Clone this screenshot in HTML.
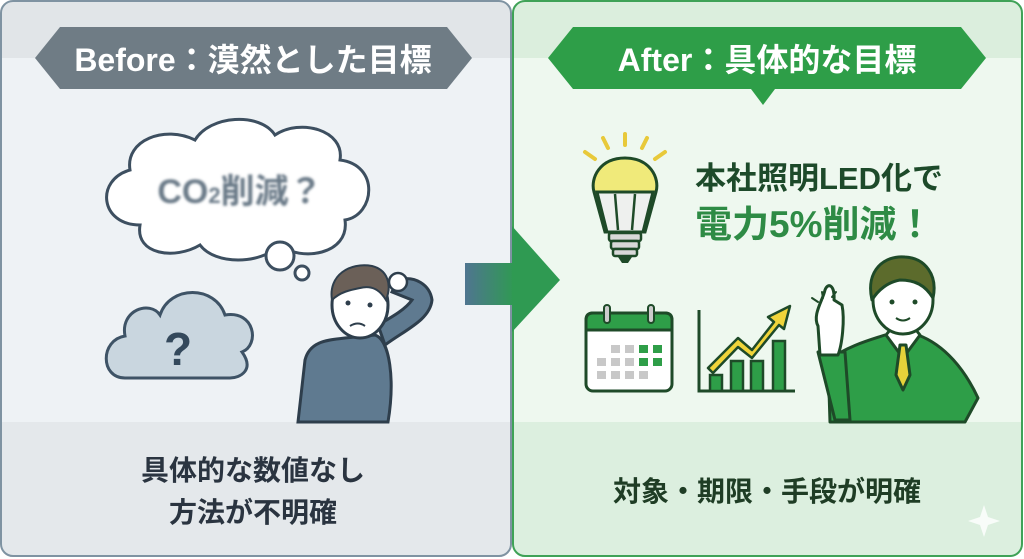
<!DOCTYPE html>
<html><head><meta charset="utf-8"><style>
html,body{margin:0;padding:0;background:#fff;}
svg{display:block;font-family:"Liberation Sans","Noto Sans CJK JP",sans-serif;}
</style></head><body>
<svg width="1024" height="559" viewBox="0 0 1024 559" xmlns="http://www.w3.org/2000/svg">
<defs>
<linearGradient id="ar" x1="0" x2="1" y1="0" y2="0"><stop offset="0" stop-color="#4f7590"/><stop offset="1" stop-color="#2f9a52"/></linearGradient>
<clipPath id="cl"><rect x="1" y="1" width="510" height="555" rx="12"/></clipPath>
<clipPath id="cr"><rect x="513" y="1" width="509" height="555" rx="12"/></clipPath>
<filter id="bl"><feGaussianBlur stdDeviation="1.3"/></filter>
</defs>
<g clip-path="url(#cl)">
<rect x="0" y="0" width="512" height="559" fill="#eef2f5"/>
<rect x="0" y="0" width="512" height="58" fill="#e1e5e8"/>
<rect x="0" y="422" width="512" height="137" fill="#e4e8eb"/>
</g>
<rect x="1" y="1" width="510" height="555" rx="12" fill="none" stroke="#7f93a2" stroke-width="2"/>
<polygon points="35,58 60,27 447,27 472,58 447,89 60,89" fill="#6f7c85"/>
<text x="253" y="71" font-size="32" font-weight="bold" fill="#fff" text-anchor="middle">Before：漠然とした目標</text>
<path d="M140,225 C100,225 95,180 130,170 C125,140 165,125 195,140 C210,115 260,112 275,135 C300,118 345,130 340,160 C380,165 375,215 345,220 C350,255 300,262 280,245 C260,265 215,265 200,245 C175,260 135,255 140,225 Z" fill="#fff" stroke="#3d4f60" stroke-width="3"/>
<text x="240" y="203" font-size="34" font-weight="bold" fill="#6b7a88" text-anchor="middle" filter="url(#bl)">CO<tspan font-size="22">2</tspan>削減？</text>
<circle cx="280" cy="256" r="14" fill="#fff" stroke="#3d4f60" stroke-width="3"/>
<circle cx="302" cy="273" r="7" fill="#fff" stroke="#3d4f60" stroke-width="3"/>
<path d="M125,378 C100,378 100,340 125,336 C120,310 150,300 160,315 C170,285 215,285 225,315 C255,310 260,345 242,352 C255,370 240,378 230,378 Z" fill="#c9d6df" stroke="#3e5366" stroke-width="3"/>
<text x="178" y="365" font-size="46" font-weight="bold" fill="#34495c" text-anchor="middle">?</text>
<path d="M298,422 L305,360 C310,340 330,340 345,338 L375,335 C390,340 395,380 388,422 Z" fill="#5f7a90" stroke="#2e3e4c" stroke-width="3"/>
<path d="M385,345 C405,330 430,320 432,300 C430,285 415,275 398,280 L392,292 L412,300 C405,310 390,318 378,325 Z" fill="#5f7a90" stroke="#2e3e4c" stroke-width="3"/>
<ellipse cx="360" cy="305" rx="28" ry="33" fill="#fff" stroke="#2e3e4c" stroke-width="3"/>
<path d="M332,300 C328,275 350,262 372,266 C388,270 392,285 386,300 C380,290 372,285 360,288 C350,290 340,292 332,300 Z" fill="#6b6058" stroke="#2e3e4c" stroke-width="2"/>
<circle cx="348" cy="303" r="2.5" fill="#2e3e4c"/><circle cx="370" cy="305" r="2.5" fill="#2e3e4c"/>
<path d="M350,326 q8,-5 15,0" stroke="#2e3e4c" stroke-width="2" fill="none"/>
<circle cx="398" cy="282" r="9" fill="#fff" stroke="#2e3e4c" stroke-width="2.5"/>
<text x="253" y="480" font-size="28" font-weight="bold" fill="#2a3440" text-anchor="middle">具体的な数値なし</text>
<text x="253" y="522" font-size="28" font-weight="bold" fill="#2a3440" text-anchor="middle">方法が不明確</text>
<g clip-path="url(#cr)">
<rect x="512" y="0" width="512" height="559" fill="#eef8ef"/>
<rect x="512" y="0" width="512" height="58" fill="#dbeedd"/>
<rect x="512" y="422" width="512" height="137" fill="#dcefdf"/>
</g>
<rect x="513" y="1" width="509" height="555" rx="12" fill="none" stroke="#3fa257" stroke-width="2"/>
<polygon points="548,58 573,27 961,27 986,58 961,89 775,89 763,105 751,89 573,89" fill="#2e9e48"/>
<text x="767" y="71" font-size="32" font-weight="bold" fill="#fff" text-anchor="middle">After：具体的な目標</text>
<rect x="465" y="263" width="50" height="42" fill="url(#ar)"/>
<polygon points="512,226 560,280 512,332" fill="#2f9a52"/>
<g stroke="#e8c93a" stroke-width="4" stroke-linecap="round">
<line x1="585" y1="152" x2="595" y2="159"/><line x1="603" y1="138" x2="608" y2="148"/><line x1="625" y1="134" x2="625" y2="145"/><line x1="647" y1="138" x2="642" y2="148"/><line x1="665" y1="152" x2="655" y2="159"/>
</g>
<path d="M625,158 C600,158 590,178 594,192 L605,232 L645,232 L656,192 C660,178 650,158 625,158 Z" fill="#f0ea7a" stroke="#1e4a28" stroke-width="3"/>
<path d="M597,192 L653,192 L643,232 L607,232 Z" fill="#eef0ee" stroke="#1e4a28" stroke-width="3"/>
<path d="M615,194 L618,230 M635,194 L632,230" stroke="#1e4a28" stroke-width="2.5"/>
<rect x="609" y="233" width="32" height="8" rx="2" fill="#d8d8d8" stroke="#1e4a28" stroke-width="2.5"/>
<rect x="611" y="241" width="28" height="8" rx="2" fill="#d8d8d8" stroke="#1e4a28" stroke-width="2.5"/>
<rect x="613" y="249" width="24" height="7" rx="2" fill="#d8d8d8" stroke="#1e4a28" stroke-width="2.5"/>
<path d="M618,257 L632,257 L628,263 L622,263 Z" fill="#1e4a28"/>
<text x="695" y="189" font-size="31" font-weight="bold" fill="#1d4a2a">本社照明LED化で</text>
<text x="695" y="237" font-size="37" font-weight="bold" fill="#2e8b45">電力5%削減！</text>
<rect x="586" y="313" width="86" height="78" rx="7" fill="#fff" stroke="#1e4a28" stroke-width="3"/>
<path d="M586,330 L586,320 Q586,313 593,313 L665,313 Q672,313 672,320 L672,330 Z" fill="#2e9e48" stroke="#1e4a28" stroke-width="3"/>
<rect x="604" y="305" width="6" height="18" rx="3" fill="#ccc" stroke="#1e4a28" stroke-width="2"/>
<rect x="648" y="305" width="6" height="18" rx="3" fill="#ccc" stroke="#1e4a28" stroke-width="2"/>
<g fill="#c8c8c8">
<rect x="611" y="345" width="9" height="8"/><rect x="625" y="345" width="9" height="8"/>
<rect x="597" y="358" width="9" height="8"/><rect x="611" y="358" width="9" height="8"/><rect x="625" y="358" width="9" height="8"/>
<rect x="597" y="371" width="9" height="8"/><rect x="611" y="371" width="9" height="8"/><rect x="625" y="371" width="9" height="8"/><rect x="639" y="371" width="9" height="8"/>
</g>
<g fill="#2e9e48"><rect x="639" y="345" width="9" height="8"/><rect x="653" y="345" width="9" height="8"/><rect x="639" y="358" width="9" height="8"/><rect x="653" y="358" width="9" height="8"/></g>
<path d="M699,310 L699,391 L795,391" fill="none" stroke="#1e4a28" stroke-width="3"/>
<g fill="#2e9e48" stroke="#1e4a28" stroke-width="2.5">
<rect x="710" y="375" width="12" height="16"/><rect x="731" y="361" width="12" height="30"/><rect x="751" y="361" width="12" height="30"/><rect x="773" y="341" width="12" height="50"/>
</g>
<path d="M708,368 L738,338 L752,350 L774,322 L768,317 L790,306 L784,329 L779,325 L752,358 L738,347 L713,373 Z" fill="#f0d43a" stroke="#1e4a28" stroke-width="2.5" stroke-linejoin="round"/>
<g stroke="#1e4a28" stroke-width="3" stroke-linejoin="round">
<path d="M830,422 L828,360 C850,345 870,340 885,335 L918,335 C945,345 965,370 978,398 L965,422 Z" fill="#2e9e48"/>
<path d="M818,352 L845,352 L850,420 L835,420 Z" fill="#2e9e48"/>
<path d="M818,326 C812,315 823,300 825,290 C828,282 835,285 834,300 L842,305 C845,320 842,345 838,355 L820,355 Z" fill="#fff"/>
<path d="M886,335 L903,358 L920,335 L912,325 L894,325 Z" fill="#fff"/>
<path d="M900,345 L906,345 L910,375 L903,390 L896,375 Z" fill="#e5d23a"/>
<ellipse cx="903" cy="300" rx="30" ry="34" fill="#fff"/>
<path d="M872,300 C865,270 885,255 905,257 C925,258 938,275 933,298 C925,285 915,280 900,280 C888,282 878,290 872,300 Z" fill="#5c6b2c"/>
</g>
<circle cx="892" cy="302" r="2.5" fill="#1e4a28"/><circle cx="915" cy="302" r="2.5" fill="#1e4a28"/>
<path d="M896,318 q7,5 14,0" stroke="#1e4a28" stroke-width="2" fill="none"/>
<g stroke="#1e4a28" stroke-width="2" stroke-linecap="round"><line x1="812" y1="298" x2="818" y2="302"/><line x1="822" y1="292" x2="823" y2="298"/><line x1="836" y1="292" x2="832" y2="297"/></g>
<text x="767" y="501" font-size="28" font-weight="bold" fill="#1f3d25" text-anchor="middle">対象・期限・手段が明確</text>
<path d="M984,505 L988,517 L1000,521 L988,525 L984,537 L980,525 L968,521 L980,517 Z" fill="#ffffff" opacity="0.8"/>
</svg>
</body></html>
